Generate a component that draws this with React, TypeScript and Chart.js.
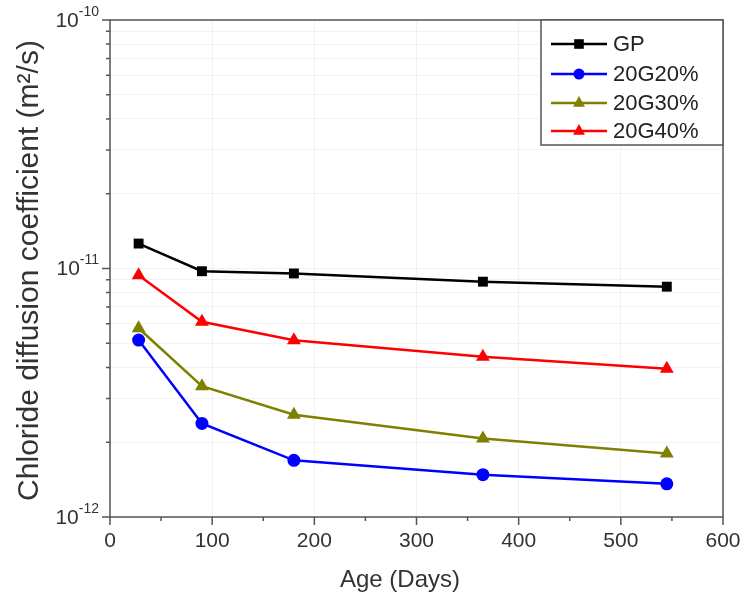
import { useEffect, useRef } from "react";
import { Chart, registerables } from "chart.js";

Chart.register(...registerables);

// ---- data ----
const days = [28, 90, 180, 365, 545];
const gpValues = [12.6e-12, 9.75e-12, 9.55e-12, 8.85e-12, 8.45e-12];
const g20Values = [5.15e-12, 2.38e-12, 1.69e-12, 1.48e-12, 1.36e-12];
const g30Values = [5.75e-12, 3.36e-12, 2.58e-12, 2.07e-12, 1.8e-12];
const g40Values = [9.4e-12, 6.1e-12, 5.14e-12, 4.41e-12, 3.95e-12];

const seriesNames = ["GP", "20G20%", "20G30%", "20G40%"];
const seriesValues = [gpValues, g20Values, g30Values, g40Values];
const seriesColors = ["#000000", "#0000ff", "#808000", "#ff0000"];
const seriesMarkers = ["rect", "circle", "triangle", "triangle"];
const seriesRadius = [7, 6.5, 8, 8];

const xMin = 0;
const xMax = 600;
const xMajorStep = 100;
const xMinorStep = 50;
const yExponents = [-12, -11, -10];
const xTitle = "Age (Days)";
const yTitle = "Chloride diffusion coefficient (m\u00B2/s)";

const FONT = "'Liberation Sans', Arial, sans-serif";

function drawMarker(ctx: CanvasRenderingContext2D, kind: string, x: number, y: number, r: number, color: string) {
  ctx.save();
  ctx.fillStyle = color;
  ctx.beginPath();
  if (kind === "rect") {
    ctx.rect(x - r * 0.8, y - r * 0.8, r * 1.6, r * 1.6);
  } else if (kind === "circle") {
    ctx.arc(x, y, r, 0, Math.PI * 2);
  } else {
    ctx.moveTo(x, y - r);
    ctx.lineTo(x + r * 0.85, y + r * 0.55);
    ctx.lineTo(x - r * 0.85, y + r * 0.55);
    ctx.closePath();
  }
  ctx.fill();
  ctx.restore();
}

const framePlugin = {
  id: "framePlugin",
  afterDraw(chart: any) {
    const ctx: CanvasRenderingContext2D = chart.ctx;
    const { left, right, top, bottom } = chart.chartArea;
    const xs = chart.scales.x;
    const ys = chart.scales.y;
    ctx.save();
    // frame
    ctx.strokeStyle = "#555555";
    ctx.lineWidth = 1.5;
    ctx.strokeRect(left, top, right - left, bottom - top);
    // x ticks
    ctx.beginPath();
    for (let v = xMin; v <= xMax; v += xMinorStep) {
      const px = xs.getPixelForValue(v);
      const len = v % xMajorStep === 0 ? 8 : 4;
      ctx.moveTo(px, bottom);
      ctx.lineTo(px, bottom + len);
    }
    // y ticks
    for (let e = yExponents[0]; e <= yExponents[yExponents.length - 1]; e++) {
      for (let m = 1; m <= 9; m++) {
        if (e === yExponents[yExponents.length - 1] && m > 1) break;
        const py = ys.getPixelForValue(m * Math.pow(10, e));
        const len = m === 1 ? 8 : 4;
        ctx.moveTo(left, py);
        ctx.lineTo(left - len, py);
      }
    }
    ctx.stroke();

    // y labels 10^e
    ctx.fillStyle = "#333333";
    ctx.textBaseline = "middle";
    for (const e of yExponents) {
      const py = ys.getPixelForValue(Math.pow(10, e));
      ctx.font = `14px ${FONT}`;
      const expStr = String(e);
      const ew = ctx.measureText(expStr).width;
      ctx.font = `21px ${FONT}`;
      const bw = ctx.measureText("10").width;
      const xr = left - 11;
      ctx.textAlign = "left";
      ctx.fillText("10", xr - ew - bw, py + 1);
      ctx.font = `14px ${FONT}`;
      ctx.fillText(expStr, xr - ew, py - 8);
    }

    // y title
    ctx.save();
    ctx.translate(30, (top + bottom) / 2 + 2);
    ctx.rotate(-Math.PI / 2);
    ctx.textAlign = "center";
    ctx.textBaseline = "middle";
    ctx.font = `30px ${FONT}`;
    ctx.fillStyle = "#333333";
    ctx.fillText(yTitle, 0, 0);
    ctx.restore();

    // x title
    ctx.textAlign = "center";
    ctx.textBaseline = "middle";
    ctx.font = `24px ${FONT}`;
    ctx.fillStyle = "#333333";
    ctx.fillText(xTitle, 400, 580);

    // legend
    const lx = 541;
    const ly = top;
    const lw = right - lx;
    const lh = 125;
    ctx.fillStyle = "#ffffff";
    ctx.fillRect(lx, ly, lw, lh);
    ctx.strokeStyle = "#555555";
    ctx.lineWidth = 1.5;
    ctx.strokeRect(lx, ly, lw, lh);
    const rowsY = [44, 74, 103, 131];
    seriesNames.forEach((name, i) => {
      const y = rowsY[i];
      ctx.strokeStyle = seriesColors[i];
      ctx.lineWidth = 2.5;
      ctx.beginPath();
      ctx.moveTo(551, y);
      ctx.lineTo(607, y);
      ctx.stroke();
      drawMarker(ctx, seriesMarkers[i], 579, y, seriesRadius[i] - 1, seriesColors[i]);
      ctx.fillStyle = "#222222";
      ctx.font = `22px ${FONT}`;
      ctx.textAlign = "left";
      ctx.textBaseline = "middle";
      ctx.fillText(name, 613, y + 1);
    });
    ctx.restore();
  },
};

export default function App() {
  const canvasRef = useRef<HTMLCanvasElement | null>(null);

  useEffect(() => {
    if (!canvasRef.current) return;
    const yTickValues: number[] = [];
    for (let e = yExponents[0]; e <= yExponents[yExponents.length - 1]; e++) {
      for (let m = 1; m <= 9; m++) {
        if (e === yExponents[yExponents.length - 1] && m > 1) break;
        yTickValues.push(m * Math.pow(10, e));
      }
    }
    const chart = new Chart(canvasRef.current, {
      type: "line",
      data: {
        datasets: seriesNames.map((name, i) => ({
          label: name,
          data: days.map((d, j) => ({ x: d, y: seriesValues[i][j] })),
          borderColor: seriesColors[i],
          backgroundColor: seriesColors[i],
          borderWidth: 2.5,
          pointStyle: seriesMarkers[i] as any,
          pointRadius: seriesRadius[i],
          pointBorderWidth: 0,
          tension: 0,
        })),
      },
      options: {
        responsive: false,
        animation: false,
        layout: { padding: { top: 20, right: 21, left: 0, bottom: 0 } },
        plugins: { legend: { display: false }, tooltip: { enabled: false } },
        scales: {
          x: {
            type: "linear",
            min: xMin,
            max: xMax,
            ticks: {
              stepSize: xMajorStep,
              font: { family: FONT, size: 21 },
              color: "#333333",
              padding: 12,
              maxRotation: 0,
            },
            grid: { color: "rgba(0,0,0,0.05)", drawTicks: false },
            border: { display: false },
            title: { display: false },
            afterFit: (s: any) => {
              s.height = 84;
              s.paddingLeft = 0;
              s.paddingRight = 0;
            },
          },
          y: {
            type: "logarithmic",
            min: 1e-12,
            max: 1e-10,
            ticks: { display: false },
            grid: { color: "rgba(0,0,0,0.05)", drawTicks: false },
            border: { display: false },
            afterBuildTicks: (s: any) => {
              s.ticks = yTickValues.map((v) => ({ value: v }));
            },
            afterFit: (s: any) => {
              s.width = 110;
              s.paddingTop = 0;
              s.paddingBottom = 0;
            },
          },
        },
      },
      plugins: [framePlugin],
    });
    return () => chart.destroy();
  }, []);

  return (
    <div style={{ position: "fixed", left: 0, top: 0, width: 744, height: 601, background: "#ffffff" }}>
      <canvas ref={canvasRef} width={744} height={601} />
    </div>
  );
}
